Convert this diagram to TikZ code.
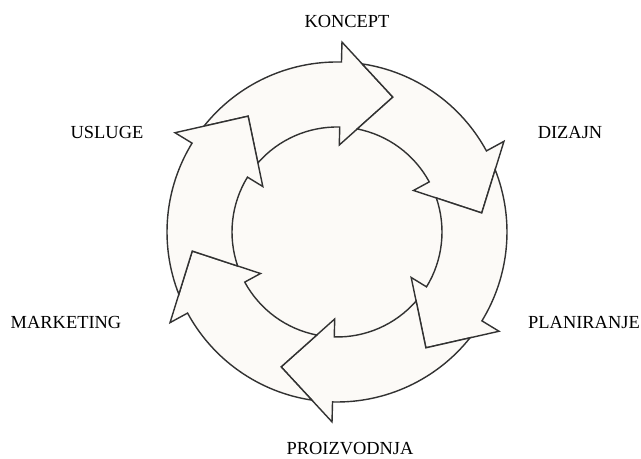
\documentclass[tikz,border=0pt]{standalone}
\usepackage{fontspec}
\setmainfont{Liberation Serif}
\definecolor{pilfill}{RGB}{252,250,247}
\definecolor{pilline}{RGB}{50,50,50}

\begin{document}
\begin{tikzpicture}[x=0.025cm, y=0.025cm]
\tikzset{pil/.style={draw=pilline, fill=pilfill, line width=1pt, line join=miter},
  oznaka/.style={font=\fontsize{13.1}{15}\selectfont, anchor=base, inner sep=0pt}}
\useasboundingbox (0, 0) rectangle (641, 459);
\begin{scope}[shift={(337, 227)}]
\fill[pilfill] (0, 0) circle[radius=2.625cm];
\draw[pil] (141.5:170) arc[start angle=141.5, end angle=88.5, radius=4.25cm] -- (88.5:190) -- (67.5:146) -- (88.5:87) -- (88.5:105) arc[start angle=88.5, end angle=138.9, radius=2.625cm] -- (127.5:146) -- cycle;
\draw[pil] (81.5:170) arc[start angle=81.5, end angle=28.5, radius=4.25cm] -- (28.5:190) -- (7.5:146) -- (28.5:87) -- (28.5:105) arc[start angle=28.5, end angle=78.9, radius=2.625cm] -- (67.5:146) -- cycle;
\draw[pil] (21.5:170) arc[start angle=21.5, end angle=-31.5, radius=4.25cm] -- (-31.5:190) -- (-52.5:146) -- (-31.5:87) -- (-31.5:105) arc[start angle=-31.5, end angle=18.9, radius=2.625cm] -- (7.5:146) -- cycle;
\draw[pil] (-38.5:170) arc[start angle=-38.5, end angle=-91.5, radius=4.25cm] -- (-91.5:190) -- (-112.5:146) -- (-91.5:87) -- (-91.5:105) arc[start angle=-91.5, end angle=-41.1, radius=2.625cm] -- (-52.5:146) -- cycle;
\draw[pil] (-98.5:170) arc[start angle=-98.5, end angle=-151.5, radius=4.25cm] -- (-151.5:190) -- (-172.5:146) -- (-151.5:87) -- (-151.5:105) arc[start angle=-151.5, end angle=-101.1, radius=2.625cm] -- (-112.5:146) -- cycle;
\draw[pil] (201.5:170) arc[start angle=201.5, end angle=148.5, radius=4.25cm] -- (148.5:190) -- (127.5:146) -- (148.5:87) -- (148.5:105) arc[start angle=148.5, end angle=198.9, radius=2.625cm] -- (187.5:146) -- cycle;
\end{scope}
\node[oznaka] (koncept) at (347, 431) {KONCEPT};
\node[oznaka] (dizajn) at (570, 320) {DIZAJN};
\node[oznaka] (planiranje) at (584, 130) {PLANIRANJE};
\node[oznaka] (proizvodnja) at (350, 4) {PROIZVODNJA};
\node[oznaka] (marketing) at (66, 130) {MARKETING};
\node[oznaka] (usluge) at (107, 320) {USLUGE};
\end{tikzpicture}
\end{document}
